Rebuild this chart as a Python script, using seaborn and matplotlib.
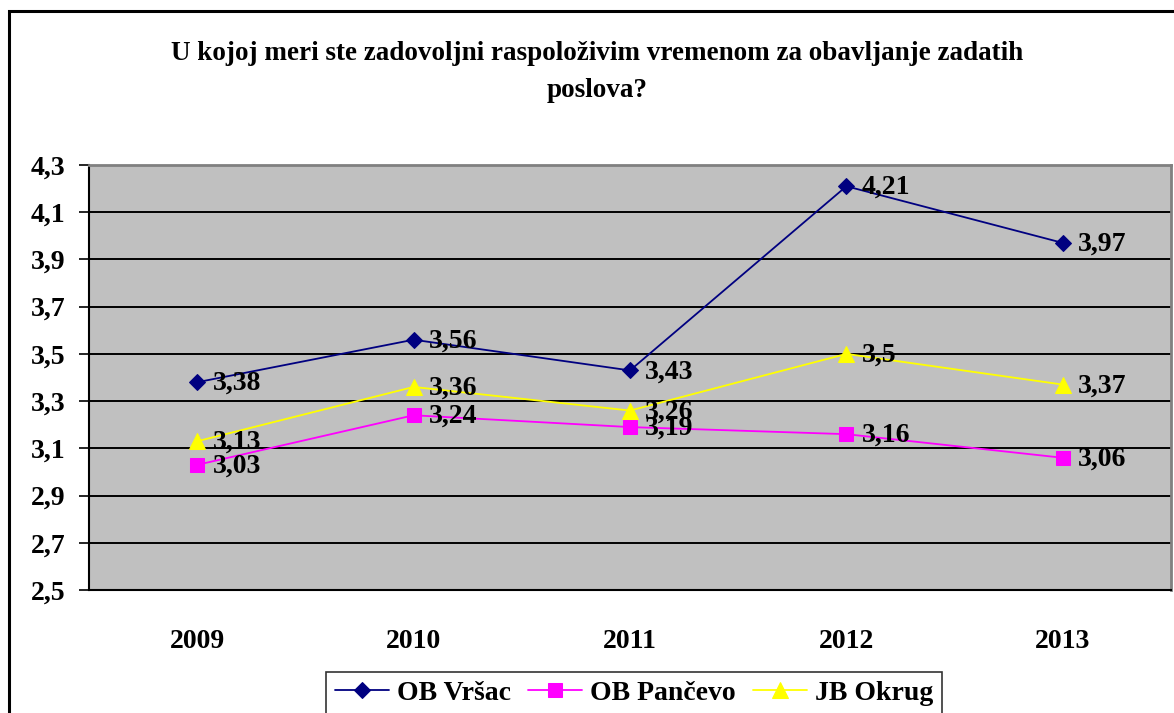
import numpy as np
import pandas as pd
import matplotlib
matplotlib.use('Agg')
import matplotlib.pyplot as plt
import matplotlib.patches as mpatches
import seaborn as sns

# Data
years = ['2009', '2010', '2011', '2012', '2013']
vrsac = [3.38, 3.56, 3.43, 4.21, 3.97]
pancevo = [3.03, 3.24, 3.19, 3.16, 3.06]
okrug = [3.13, 3.36, 3.26, 3.5, 3.37]
series_names = ['OB Vršac', 'OB Pančevo', 'JB Okrug']
y_ticks = [2.5, 2.7, 2.9, 3.1, 3.3, 3.5, 3.7, 3.9, 4.1, 4.3]

sns.set_style('white')
plt.rcParams['font.family'] = ['Liberation Serif', 'DejaVu Serif']
plt.rcParams['font.weight'] = 'bold'
plt.rcParams['text.color'] = 'black'
plt.rcParams['xtick.color'] = 'black'
plt.rcParams['ytick.color'] = 'black'

df = pd.DataFrame({
    'pos': list(range(len(years))) * 3,
    'value': vrsac + pancevo + okrug,
    'series': [n for n in series_names for _ in years],
})

colors = {'OB Vršac': '#000080', 'OB Pančevo': '#FF00FF', 'JB Okrug': '#FFFF00'}
markers = {'OB Vršac': 'D', 'OB Pančevo': 's', 'JB Okrug': '^'}
msizes = {'OB Vršac': 8, 'OB Pančevo': 10, 'JB Okrug': 11}

fig = plt.figure(figsize=(11.74, 7.13), dpi=100)
ax = fig.add_axes([89 / 1174, 1 - 590 / 713, (1171 - 89) / 1174, (590 - 165) / 713])
ax.set_facecolor('#C0C0C0')

for name in series_names:
    sub = df[df['series'] == name]
    sns.lineplot(data=sub, x='pos', y='value', ax=ax, color=colors[name],
                 marker=markers[name], markersize=msizes[name],
                 markeredgecolor=colors[name], linewidth=1.3, label=name, zorder=3)
    for x, v in zip(sub['pos'], sub['value']):
        ax.annotate(f'{v:g}'.replace('.', ','), (x, v), xytext=(11, -1),
                    textcoords='offset points', ha='left', va='center',
                    fontsize=20, fontweight='bold', color='black', zorder=4)

ax.set_xlim(-0.5, 4.5)
ax.set_ylim(2.5, 4.3)
ax.set_yticks(y_ticks)
ax.set_yticklabels([f'{t:.1f}'.replace('.', ',') for t in y_ticks],
                   fontsize=20, fontweight='bold')
ax.yaxis.grid(True, color='black', linewidth=1.4)
ax.set_axisbelow(True)

ax.set_xticks(range(len(years)))
ax.set_xticklabels(years, fontsize=20, fontweight='bold')
ax.set_xticks(np.arange(-0.5, 5, 1), minor=True)
ax.tick_params(axis='x', which='major', length=0, pad=28)
ax.tick_params(axis='x', which='minor', length=7, width=1.2, direction='out', color='black')
ax.tick_params(axis='y', length=7, width=1.2, direction='out', color='black', pad=10, left=True)
ax.set_xlabel('')
ax.set_ylabel('')

for side in ['left', 'bottom']:
    ax.spines[side].set_color('black')
    ax.spines[side].set_linewidth(1.5)
for side in ['top', 'right']:
    ax.spines[side].set_color('#808080')
    ax.spines[side].set_linewidth(2)

leg = ax.legend(loc='upper center', bbox_to_anchor=(634 / 1174, 1 - 672 / 713),
                bbox_transform=fig.transFigure, ncol=3, frameon=True, fancybox=False,
                prop={'size': 20, 'weight': 'bold'}, handlelength=1.95,
                columnspacing=0.6, handletextpad=0.3, borderpad=0.3, borderaxespad=0)
leg.get_frame().set_edgecolor('black')
leg.get_frame().set_linewidth(1.2)

fig.text(597 / 1174, 1 - 72 / 713,
         'U kojoj meri ste zadovoljni raspoloživim vremenom za obavljanje zadatih\nposlova?',
         ha='center', va='center', fontsize=19.5, fontweight='bold', linespacing=1.6)

# outer chart-area border (cropped on the right and bottom)
fig.patches.append(mpatches.Rectangle((9 / 1174, -0.1), 1.2, 1 - 11 / 713 + 0.1,
                                      transform=fig.transFigure, fill=False,
                                      edgecolor='black', linewidth=2.2))

fig.savefig('out.png', dpi=100)
